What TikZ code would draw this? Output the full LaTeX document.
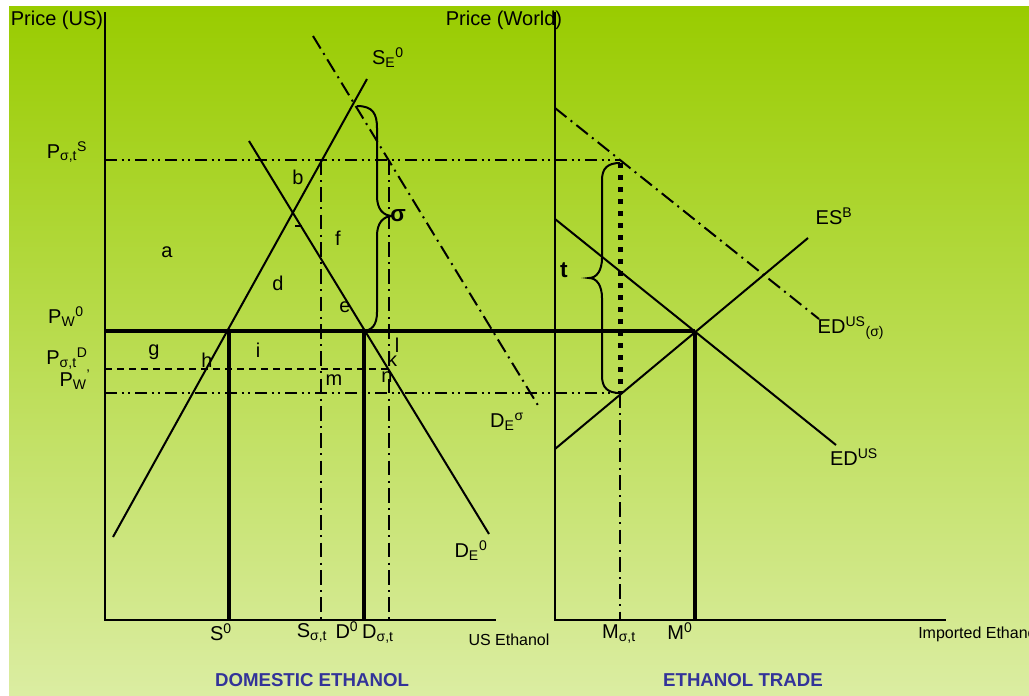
\documentclass[tikz,border=0pt]{standalone}
\usepackage{fontspec}
\setmainfont{Liberation Sans}
\usetikzlibrary{positioning,calc}
\definecolor{bgtop}{HTML}{99CC00}
\definecolor{bgbot}{HTML}{DBEDA2}
\definecolor{fblue}{HTML}{333399}
\tikzset{
  axis/.style       = {line width=1.5pt},
  curve/.style      = {line width=1.5pt},
  pline/.style      = {line width=3pt},
  dashdot/.style    = {line width=1.5pt, dash pattern=on 11pt off 4pt on 1.5pt off 4pt},
  dashdotdot/.style = {line width=1.5pt, dash pattern=on 9pt off 3.5pt on 1.5pt off 3.5pt on 1.5pt off 3.5pt},
  dashline/.style   = {line width=1.5pt, dash pattern=on 5pt off 4pt},
  sqdots/.style     = {line width=3.75pt, dash pattern=on 3.75pt off 5.25pt},
  bracepath/.style  = {line width=1.5pt},
  lab/.style        = {inner sep=0pt},
  smalllab/.style   = {inner sep=0pt, font=\fontsize{12}{14}\selectfont},
  caption/.style    = {inner sep=0pt, text=fblue, font=\bfseries\fontsize{14}{17}\selectfont},
}
\begin{document}
\begin{tikzpicture}[x=0.75pt,y=-0.75pt,font=\fontsize{15}{18}\selectfont]
\useasboundingbox (0,0) rectangle (1029,696);
\shade[top color=bgtop,bottom color=bgbot] (9,6) rectangle (1029,696);
% axes
\coordinate (yL) at (105,12);  \coordinate (oL) at (105,620); \coordinate (xL) at (496,620);
\coordinate (yR) at (555,12);  \coordinate (oR) at (555,620); \coordinate (xR) at (946,620);
\draw[axis] (yL) -- (oL) -- (xL);
\draw[axis] (yR) -- (oR) -- (xR);
\node[lab] (pus) at (57,20) {Price (US)};
\node[lab] (pworld) at (504,20) {Price (World)};
\node[smalllab] (usx) at (509,640) {US Ethanol};
\node[smalllab,anchor=west] (impx) at (918,634) {Imported Ethanol};
% domestic supply and demand
\coordinate (sea) at (113,537); \coordinate (seb) at (367,79);
\coordinate (dea) at (249,141); \coordinate (deb) at (489,534);
\coordinate (dsa) at (313,36);  \coordinate (dsb) at (539,407);
\draw[curve] (sea) -- (seb);
\draw[curve] (dea) -- (deb);
\draw[dashdot] (dsa) -- (dsb);
% trade panel
\coordinate (eda) at (555,219); \coordinate (edb) at (836,445);
\coordinate (edsa) at (555,108); \coordinate (edsb) at (819,319);
\coordinate (esa) at (555,449); \coordinate (esb) at (808,238);
\draw[curve] (eda) -- (edb);
\draw[dashdot] (edsa) -- (edsb);
\draw[curve] (esa) -- (esb);
% price lines
\coordinate (pw0L) at (105,331); \coordinate (pw0R) at (695,331);
\coordinate (psL) at (105,160);  \coordinate (psR) at (620,160);
\coordinate (pdL) at (105,369);  \coordinate (pdR) at (389,369);
\coordinate (pwL) at (105,393);  \coordinate (pwR) at (620,393);
\draw[dashdotdot] (psL) -- (psR);
\draw[dashline] (pdL) -- (pdR);
\draw[dashdotdot] (pwL) -- (pwR);
\draw[pline] (pw0L) -- (pw0R);
% quantity lines
\coordinate (s0t) at (229,331); \coordinate (s0b) at (229,620);
\coordinate (d0t) at (364,331); \coordinate (d0b) at (364,620);
\coordinate (m0t) at (695,331); \coordinate (m0b) at (695,620);
\coordinate (sst) at (321,160); \coordinate (ssb) at (321,620);
\coordinate (dst) at (389,160); \coordinate (dsbq) at (389,620);
\coordinate (mst) at (620,163); \coordinate (msm) at (620,393); \coordinate (msb) at (620,620);
\draw[pline] (s0t) -- (s0b);
\draw[pline] (d0t) -- (d0b);
\draw[pline] (m0t) -- (m0b);
\draw[dashdot] (sst) -- (ssb);
\draw[dashdot] (dst) -- (dsbq);
\draw[dashdot] (msm) -- (msb);
\draw[sqdots] (mst) -- (msm);
% braces
\draw[bracepath] (357,106) .. controls (373,106) and (377,114) .. (377,128) -- (377,196)
  .. controls (377,209) and (383,216) .. (393,216)
  .. controls (383,216) and (377,223) .. (377,236) -- (377,312)
  .. controls (377,325) and (372,331) .. (362,331);
\draw[bracepath] (620,163) .. controls (608,163) and (602,168) .. (602,180) -- (602,258)
  .. controls (602,270) and (597,278) .. (589,278)
  .. controls (597,278) and (602,286) .. (602,298) -- (602,376)
  .. controls (602,388) and (608,393) .. (620,393);
\draw[line width=1pt] (295,226) -- (302,226);
\node[lab,font=\bfseries\fontsize{17}{18}\selectfont] (sig) at (398,216) {σ};
\node[lab,font=\bfseries\fontsize{17}{18}\selectfont] (tar) at (564,270) {t};
% curve labels
\node[lab] (lse) at (388,58) {S\textsubscript{E}\textsuperscript{0}};
\node[lab] (lds) at (507,422) {D\textsubscript{E}\textsuperscript{σ}};
\node[lab] (lde) at (471,551) {D\textsubscript{E}\textsuperscript{0}};
\node[lab] (les) at (834,216) {ES\textsuperscript{B}};
\node[lab] (leds) at (851,328) {ED\textsuperscript{US}\textsubscript{(σ)}};
\node[lab] (led) at (854,457) {ED\textsuperscript{US}};
% price labels
\node[lab] (lps) at (67,152) {P\textsubscript{σ,t}\textsuperscript{S}};
\node[lab] (lpw0) at (66,317) {P\textsubscript{W}\textsuperscript{0}};
\node[lab] (lpd) at (67,359) {P\textsubscript{σ,t}\textsuperscript{D}};
\node[lab] (lpw) at (75,380) {P\textsubscript{W}\textsuperscript{’}};
% quantity labels
\node[lab] (ls0) at (221,632) {S\textsuperscript{0}};
\node[lab] (lss) at (312,633) {S\textsubscript{σ,t}};
\node[lab] (ld0) at (347,630) {D\textsuperscript{0}};
\node[lab] (ldst) at (378,634) {D\textsubscript{σ,t}};
\node[lab] (lms) at (619,634) {M\textsubscript{σ,t}};
\node[lab] (lm0) at (680,631) {M\textsuperscript{0}};
% welfare areas
\foreach \px/\py/\txt in {167/252/a, 298/177/b, 338/238/f, 278/283/d, 345/307/e,
  154/352/g, 207/360/h, 258/350/i, 397/345/l, 392/359/k, 334/380/m, 387/377/n}
  \node[lab] (area-\txt) at (\px,\py) {\txt};
% panel titles
\node[caption] (capdom) at (312,680) {DOMESTIC ETHANOL};
\node[caption] (captrade) at (743,680) {ETHANOL TRADE};
\end{tikzpicture}
\end{document}
